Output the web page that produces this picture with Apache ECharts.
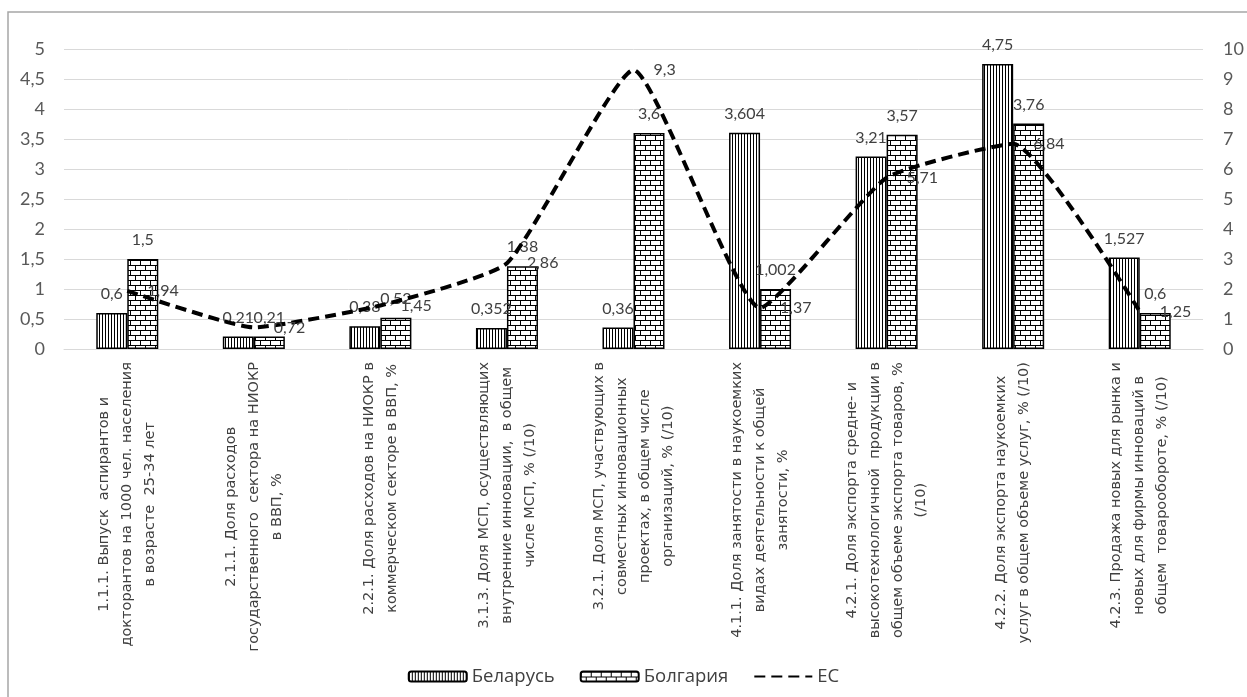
<!DOCTYPE html>
<html>
<head>
<meta charset="utf-8">
<script src="https://cdn.jsdelivr.net/npm/echarts@6/dist/echarts.min.js"></script>
<style>
  html, body { margin: 0; padding: 0; background: #fff; }
  #chart { width: 1247px; height: 697px; }
</style>
</head>
<body>
<div id="chart"></div>
<script>
// категории (переносы строк как на исходном рисунке)
const categories = [
    "1.1.1. Выпуск  аспирантов и\nдокторантов на 1000 чел. населения\nв возрасте  25-34 лет",
    "2.1.1. Доля расходов\nгосударственного  сектора на НИОКР\nв ВВП, %",
    "2.2.1. Доля расходов на НИОКР в\nкоммерческом секторе в ВВП, %",
    "3.1.3. Доля МСП, осуществляющих\nвнутренние инновации,  в общем\nчисле МСП, % (/10)",
    "3.2.1. Доля МСП, участвующих в\nсовместных инновационных\nпроектах, в общем числе\nорганизаций, % (/10)",
    "4.1.1. Доля занятости в наукоемких\nвидах деятельности к общей\nзанятости, %",
    "4.2.1. Доля экспорта средне- и\nвысокотехнологичной  продукции в\nобщем объеме экспорта товаров, %\n(/10)",
    "4.2.2. Доля экспорта наукоемких\nуслуг в общем объеме услуг, % (/10)",
    "4.2.3. Продажа новых для рынка и\nновых для фирмы инноваций в\nобщем  товарообороте, % (/10)"
];
const belarus = [0.6, 0.21, 0.38, 0.352, 0.36, 3.604, 3.21, 4.75, 1.527];
const bulgaria = [1.5, 0.21, 0.52, 1.38, 3.6, 1.002, 3.57, 3.76, 0.6];
const eu = [1.94, 0.72, 1.45, 2.86, 9.3, 1.37, 5.71, 6.84, 1.25];
const leftTicks = [0, 5, 0.5];   // min, max, шаг
const rightTicks = [0, 10, 1];

const numFont = "Lato, 'Open Sans', sans-serif";
const textFont = "'Open Sans', sans-serif";

// заливка с вертикальными штрихами
function stripePattern() {
    const c = document.createElement("canvas");
    c.width = 3; c.height = 3;
    const ctx = c.getContext("2d");
    ctx.fillStyle = "#fff";
    ctx.fillRect(0, 0, 3, 3);
    ctx.fillStyle = "#000";
    ctx.fillRect(0, 0, 1, 3);
    return c;
}

// заливка "кирпичи"
function brickPattern() {
    const c = document.createElement("canvas");
    c.width = 10; c.height = 10;
    const ctx = c.getContext("2d");
    ctx.fillStyle = "#fff";
    ctx.fillRect(0, 0, 10, 10);
    ctx.fillStyle = "#000";
    ctx.fillRect(0, 0, 10, 1);
    ctx.fillRect(0, 5, 10, 1);
    ctx.fillRect(0, 0, 1, 5);
    ctx.fillRect(5, 5, 1, 5);
    return c;
}

function fmt(v) {
    return String(v).replace(".", ",");
}

const chart = echarts.init(document.getElementById("chart"));

const barLabel = {
    show: true,
    position: "top",
    distance: 11,
    color: "#404040",
    fontFamily: numFont,
    fontSize: 16,
    formatter: p => fmt(p.value)
};

chart.setOption({
    animation: false,
    graphic: [{
        type: "rect",
        shape: { x: 8, y: 12, width: 1260, height: 700 },
        style: { fill: "none", stroke: "#a6a6a6", lineWidth: 1.5 },
        silent: true
    }],
    grid: { left: 64, right: 44, top: 49, bottom: 348 },
    legend: {
        top: 662,
        left: "center",
        itemWidth: 58,
        itemHeight: 10,
        itemGap: 25,
        textStyle: { fontFamily: textFont, fontSize: 18.5, color: "#404040" },
        data: ["Беларусь", "Болгария", { name: "ЕС", itemStyle: { opacity: 0 } }]
    },
    xAxis: {
        type: "category",
        data: categories,
        axisLine: { show: true, lineStyle: { color: "#d9d9d9" } },
        axisTick: { show: false },
        axisLabel: {
            interval: 0,
            rotate: 90,
            margin: 13,
            formatter: v => v.split("\n").map(s => "{c|" + s + "}").join("\n"),
            rich: {
                c: {
                    align: "center",
                    fontFamily: "'DejaVu Sans', sans-serif",
                    fontSize: 14.5,
                    lineHeight: 23,
                    color: "#404040"
                }
            }
        }
    },
    yAxis: [{
        type: "value",
        min: leftTicks[0], max: leftTicks[1], interval: leftTicks[2],
        axisLine: { show: false },
        axisTick: { show: false },
        splitLine: { lineStyle: { color: "#d9d9d9" } },
        axisLabel: {
            margin: 19,
            color: "#595959",
            fontFamily: numFont,
            fontSize: 18,
            formatter: v => fmt(v)
        }
    }, {
        type: "value",
        min: rightTicks[0], max: rightTicks[1], interval: rightTicks[2],
        axisLine: { show: false },
        axisTick: { show: false },
        splitLine: { show: false },
        axisLabel: {
            margin: 20,
            color: "#595959",
            fontFamily: numFont,
            fontSize: 18
        }
    }],
    series: [{
        name: "Беларусь",
        type: "bar",
        data: belarus,
        barWidth: "24.5%",
        barGap: "0%",
        itemStyle: {
            color: { image: stripePattern(), repeat: "repeat" },
            borderColor: "#000",
            borderWidth: 1.5
        },
        label: barLabel
    }, {
        name: "Болгария",
        type: "bar",
        data: bulgaria,
        barWidth: "24.5%",
        barGap: "0%",
        itemStyle: {
            color: { image: brickPattern(), repeat: "repeat" },
            borderColor: "#000",
            borderWidth: 1.5
        },
        label: barLabel
    }, {
        name: "ЕС",
        type: "line",
        yAxisIndex: 1,
        data: eu,
        smooth: 0.15,
        symbol: "circle",
        symbolSize: 0,
        z: 5,
        itemStyle: { color: "#000" },
        lineStyle: { color: "#000", width: 4, type: [11, 6] },
        label: {
            show: true,
            position: "right",
            distance: 20,
            color: "#404040",
            fontFamily: numFont,
            fontSize: 16,
            formatter: p => fmt(p.value)
        }
    }]
});
</script>
</body>
</html>
